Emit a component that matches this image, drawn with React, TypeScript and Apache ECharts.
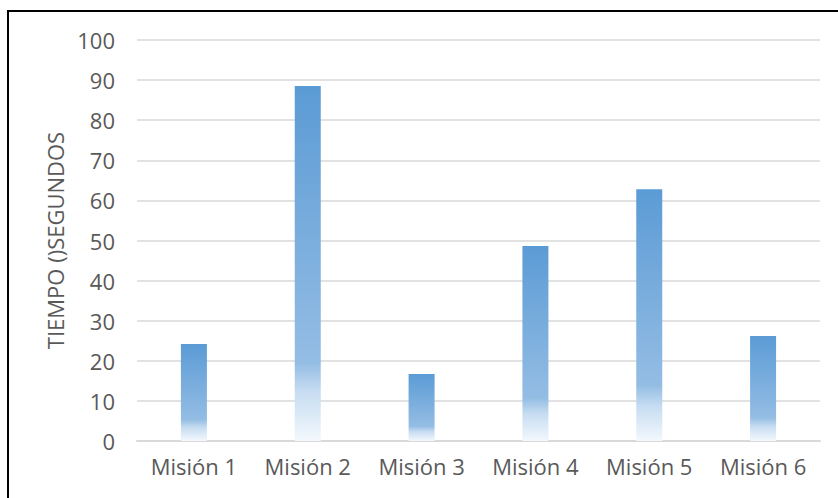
import React, { useEffect, useRef } from "react";
import * as echarts from "echarts";

const categories = ["Misión 1", "Misión 2", "Misión 3", "Misión 4", "Misión 5", "Misión 6"];
const tiempos = [24.2, 88.5, 16.7, 48.6, 62.8, 26.2];
const yAxisTitle = "TIEMPO ()SEGUNDOS";

export default function App() {
  const ref = useRef<HTMLDivElement>(null);
  useEffect(() => {
    if (!ref.current) return;
    const chart = echarts.init(ref.current, null, { renderer: "svg" });
    const font = "Open Sans, Liberation Sans, sans-serif";
    chart.setOption({
      animation: false,
      backgroundColor: "#ffffff",
      graphic: [
        {
          type: "rect",
          shape: { x: 8, y: 11, width: 850, height: 500 },
          style: { fill: "none", stroke: "#000000", lineWidth: 2 },
          silent: true,
        },
      ],
      grid: { left: 137, right: 18, top: 40, bottom: 57 },
      xAxis: {
        type: "category",
        data: categories,
        axisLine: { show: true, lineStyle: { color: "#d9d9d9", width: 2 } },
        axisTick: { show: false },
        axisLabel: { color: "#595959", fontSize: 22, fontFamily: font, margin: 14 },
      },
      yAxis: {
        type: "value",
        min: 0,
        max: 100,
        interval: 10,
        name: yAxisTitle,
        nameLocation: "middle",
        nameGap: 65,
        nameTextStyle: { color: "#595959", fontSize: 22, fontFamily: font },
        axisLine: { show: false },
        axisTick: { show: false },
        splitLine: { lineStyle: { color: "#d9d9d9", width: 1.5 } },
        axisLabel: { color: "#595959", fontSize: 22, fontFamily: font, margin: 22 },
      },
      series: [
        {
          type: "bar",
          data: tiempos,
          barWidth: 26,
          itemStyle: {
            color: new echarts.graphic.LinearGradient(0, 0, 0, 1, [
              { offset: 0, color: "#5b9bd5" },
              { offset: 0.78, color: "#94bde4" },
              { offset: 0.86, color: "#c6dcf1" },
              { offset: 1, color: "#f3f8fd" },
            ]),
          },
        },
      ],
    });
    return () => chart.dispose();
  }, []);
  return (
    <div
      ref={ref}
      style={{ position: "fixed", left: 0, top: 0, width: 838, height: 498 }}
    />
  );
}
